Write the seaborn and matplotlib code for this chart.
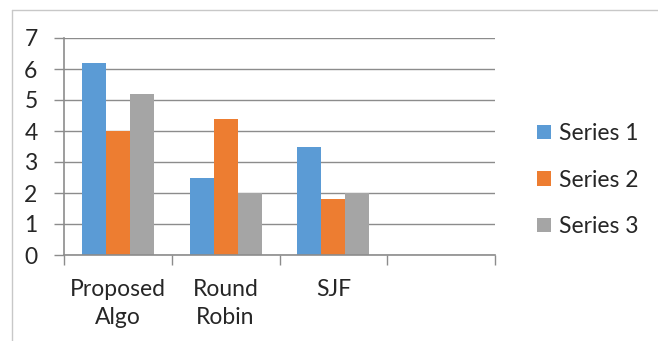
import matplotlib
matplotlib.use("Agg")
import matplotlib.pyplot as plt
import seaborn as sns
import pandas as pd
from matplotlib.lines import Line2D

categories = ["Proposed\nAlgo", "Round\nRobin", "SJF"]
axis_slots = categories + [""]
series_names = ["Series 1", "Series 2", "Series 3"]
series_1 = [6.2, 2.5, 3.5]
series_2 = [4.0, 4.4, 1.8]
series_3 = [5.2, 2.0, 2.0]
y_ticks = [0, 1, 2, 3, 4, 5, 6, 7]
colors = ["#5B9BD5", "#ED7D31", "#A5A5A5"]

rows = []
for name, vals in zip(series_names, [series_1, series_2, series_3]):
    for cat, v in zip(categories, vals):
        rows.append({"category": cat, "series": name, "value": v})
df = pd.DataFrame(rows)

sns.set_theme(style="white")
plt.rcParams["font.family"] = ["Lato", "DejaVu Sans"]
FS = 16.5

fig = plt.figure(figsize=(6.58, 3.41), dpi=100)
ax = fig.add_axes([64 / 658, 1 - 255 / 341, (495 - 64) / 658, (255 - 38) / 341])

sns.barplot(data=df, x="category", y="value", hue="series", order=axis_slots,
            hue_order=series_names, palette=colors, width=0.667, gap=0,
            saturation=1, ax=ax, legend=True)
for p in ax.patches:
    p.set_edgecolor("none")

ax.set_xlim(-0.5, len(axis_slots) - 0.5)
ax.set_ylim(0, 7)
ax.set_yticks(y_ticks)
ax.set_yticklabels([str(t) for t in y_ticks])
ax.set_xlabel("")
ax.set_ylabel("")

grid_color = "#8C8C8C"
ax.yaxis.grid(True, color=grid_color, linewidth=1)
ax.set_axisbelow(True)
for side in ["top", "right"]:
    ax.spines[side].set_visible(False)
for side in ["left", "bottom"]:
    ax.spines[side].set_color(grid_color)
    ax.spines[side].set_linewidth(1.2)

# Category boundary ticks on the x axis, labels at the centres
ax.set_xticks([i - 0.5 for i in range(len(axis_slots) + 1)], minor=False)
ax.set_xticklabels([])
ax.set_xticks(range(len(axis_slots)), minor=True)
ax.set_xticklabels(axis_slots, minor=True, fontsize=FS, linespacing=1.45)
ax.tick_params(axis="x", which="major", length=7, width=1, color=grid_color, direction="out", bottom=True)
ax.tick_params(axis="x", which="minor", length=0, pad=17)
ax.tick_params(axis="y", length=7, width=1, color=grid_color, direction="out", left=True, pad=12, labelsize=FS)

handles, labels = ax.get_legend_handles_labels()
leg = ax.legend(handles, labels, loc="center left", bbox_to_anchor=(1.072, 0.345),
                frameon=False, fontsize=FS, handlelength=0.6, handleheight=0.6,
                handletextpad=0.35, labelspacing=1.12, borderpad=0)

# Chart area outline along the top and left edges
fig.add_artist(Line2D([12 / 658, 12 / 658], [1 - 10 / 341, 0], transform=fig.transFigure,
                      color="#C8C8C8", linewidth=1))
fig.add_artist(Line2D([12 / 658, 1], [1 - 10 / 341, 1 - 10 / 341], transform=fig.transFigure,
                      color="#C8C8C8", linewidth=1))

fig.savefig("out.png", dpi=100)
